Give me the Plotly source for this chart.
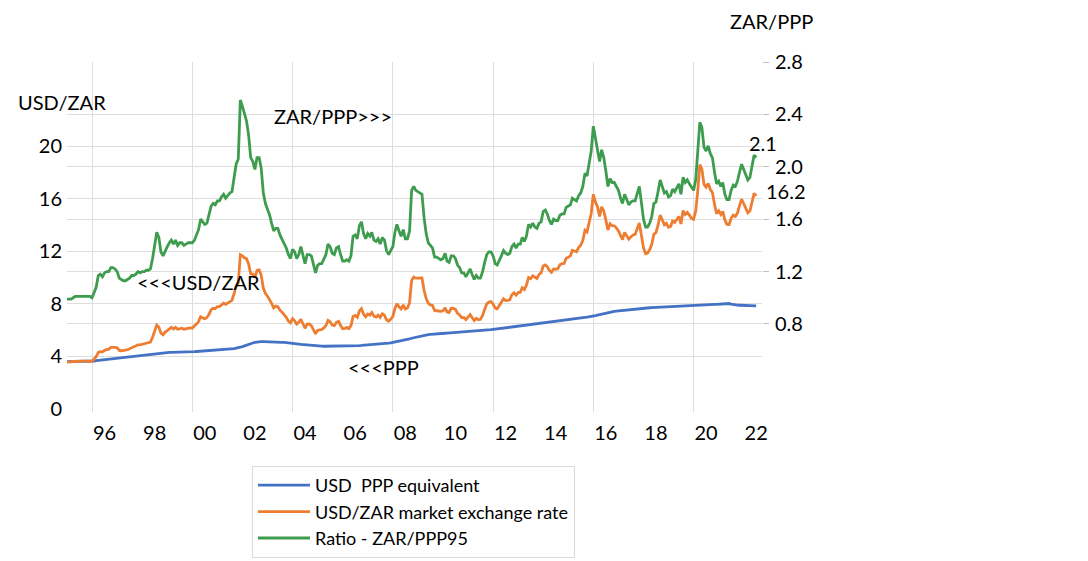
import pandas as pd
import plotly.graph_objects as go

# monthly data, Jan 1995 .. Jul 2022
ppp = [
    3.60, 3.60, 3.60, 3.60, 3.60, 3.60, 3.61, 3.61, 3.61, 3.62, 3.62, 3.62,  # 1995
    3.63, 3.65, 3.67, 3.69, 3.71, 3.73, 3.75, 3.77, 3.79, 3.81, 3.83, 3.85,  # 1996
    3.86, 3.88, 3.90, 3.92, 3.94, 3.96, 3.98, 4.00, 4.02, 4.04, 4.06, 4.08,  # 1997
    4.10, 4.12, 4.14, 4.16, 4.18, 4.20, 4.22, 4.24, 4.26, 4.27, 4.28, 4.29,  # 1998
    4.30, 4.30, 4.31, 4.31, 4.31, 4.32, 4.32, 4.32, 4.33, 4.33, 4.33, 4.34,  # 1999
    4.35, 4.36, 4.37, 4.38, 4.39, 4.40, 4.41, 4.42, 4.43, 4.44, 4.45, 4.46,  # 2000
    4.47, 4.48, 4.49, 4.50, 4.52, 4.53, 4.55, 4.57, 4.59, 4.62, 4.65, 4.68,  # 2001
    4.74, 4.80, 4.86, 4.92, 4.97, 5.02, 5.06, 5.09, 5.11, 5.12, 5.12, 5.12,  # 2002
    5.12, 5.11, 5.11, 5.10, 5.10, 5.09, 5.08, 5.07, 5.06, 5.05, 5.04, 5.02,  # 2003
    5.00, 4.98, 4.96, 4.94, 4.92, 4.90, 4.88, 4.86, 4.84, 4.82, 4.81, 4.80,  # 2004
    4.79, 4.78, 4.78, 4.77, 4.77, 4.77, 4.77, 4.77, 4.77, 4.77, 4.78, 4.78,  # 2005
    4.78, 4.78, 4.79, 4.79, 4.80, 4.80, 4.81, 4.82, 4.82, 4.83, 4.84, 4.85,  # 2006
    4.86, 4.87, 4.88, 4.89, 4.90, 4.92, 4.93, 4.95, 4.97, 4.99, 5.01, 5.03,  # 2007
    5.06, 5.09, 5.12, 5.15, 5.18, 5.22, 5.26, 5.30, 5.34, 5.38, 5.42, 5.46,  # 2008
    5.50, 5.54, 5.57, 5.60, 5.63, 5.65, 5.67, 5.69, 5.70, 5.72, 5.73, 5.74,  # 2009
    5.75, 5.76, 5.77, 5.78, 5.79, 5.80, 5.81, 5.82, 5.83, 5.84, 5.85, 5.86,  # 2010
    5.87, 5.88, 5.89, 5.90, 5.91, 5.92, 5.93, 5.95, 5.97, 5.99, 6.01, 6.03,  # 2011
    6.05, 6.07, 6.09, 6.11, 6.13, 6.15, 6.17, 6.19, 6.21, 6.23, 6.25, 6.27,  # 2012
    6.29, 6.31, 6.33, 6.35, 6.38, 6.41, 6.44, 6.46, 6.48, 6.50, 6.52, 6.54,  # 2013
    6.56, 6.58, 6.60, 6.62, 6.64, 6.66, 6.68, 6.70, 6.72, 6.74, 6.76, 6.78,  # 2014
    6.80, 6.82, 6.84, 6.86, 6.88, 6.90, 6.92, 6.94, 6.96, 6.98, 7.00, 7.02,  # 2015
    7.06, 7.10, 7.14, 7.18, 7.22, 7.26, 7.30, 7.34, 7.37, 7.40, 7.42, 7.44,  # 2016
    7.46, 7.48, 7.50, 7.52, 7.54, 7.56, 7.58, 7.60, 7.62, 7.64, 7.65, 7.66,  # 2017
    7.67, 7.68, 7.69, 7.70, 7.71, 7.72, 7.73, 7.74, 7.75, 7.76, 7.77, 7.78,  # 2018
    7.79, 7.80, 7.81, 7.82, 7.83, 7.84, 7.85, 7.86, 7.87, 7.88, 7.89, 7.90,  # 2019
    7.91, 7.92, 7.93, 7.94, 7.94, 7.95, 7.95, 7.95, 7.96, 7.96, 7.96, 7.96,  # 2020
    7.97, 7.98, 8.00, 8.02, 8.03, 8.02, 7.98, 7.94, 7.92, 7.90, 7.89, 7.88,  # 2021
    7.87, 7.87, 7.86, 7.86, 7.85, 7.85, 7.84,                                # 2022
]

usdzar = [
    3.57, 3.56, 3.58, 3.61, 3.63, 3.64, 3.64, 3.64, 3.64, 3.65, 3.65, 3.65,  # 1995
    3.63, 3.80, 3.98, 4.30, 4.36, 4.34, 4.46, 4.51, 4.55, 4.68, 4.70, 4.69,  # 1996
    4.65, 4.45, 4.43, 4.43, 4.47, 4.51, 4.58, 4.68, 4.69, 4.78, 4.88, 4.87,  # 1997
    4.94, 4.96, 5.00, 5.03, 5.08, 5.45, 5.86, 6.38, 6.21, 5.77, 5.65, 5.85,  # 1998
    5.96, 6.12, 6.21, 6.08, 6.21, 6.06, 6.12, 6.14, 6.07, 6.11, 6.15, 6.16,  # 1999
    6.16, 6.30, 6.46, 6.65, 7.02, 6.93, 6.87, 6.96, 7.20, 7.55, 7.66, 7.64,  # 2000
    7.79, 7.79, 7.93, 8.04, 7.96, 8.06, 8.18, 8.26, 8.78, 9.33, 9.60, 11.73,  # 2001
    11.65, 11.49, 11.44, 11.01, 10.28, 10.26, 10.02, 10.53, 10.57, 10.17, 9.20, 8.79,  # 2002
    8.58, 8.33, 8.04, 7.68, 7.82, 7.78, 7.51, 7.36, 7.18, 6.97, 6.68, 6.55,  # 2003
    6.87, 6.71, 6.45, 6.59, 6.82, 6.44, 6.14, 6.45, 6.46, 6.34, 6.02, 5.71,  # 2004
    5.98, 6.01, 6.04, 6.17, 6.33, 6.74, 6.64, 6.39, 6.34, 6.59, 6.66, 6.35,  # 2005
    6.10, 6.12, 6.20, 6.11, 6.34, 7.04, 7.11, 6.97, 7.45, 7.63, 7.21, 7.01,  # 2006
    7.22, 7.14, 7.34, 7.06, 6.99, 7.13, 6.96, 7.24, 7.14, 6.79, 6.68, 6.83,  # 2007
    7.02, 7.64, 7.99, 7.77, 7.61, 7.91, 7.61, 7.68, 8.08, 9.78, 10.03, 9.95,  # 2008
    9.95, 9.98, 9.96, 9.01, 8.39, 8.03, 7.92, 7.88, 7.49, 7.47, 7.45, 7.43,  # 2009
    7.47, 7.70, 7.38, 7.35, 7.66, 7.65, 7.58, 7.28, 7.15, 6.94, 6.96, 6.80,  # 2010
    6.99, 7.18, 6.96, 6.73, 6.90, 6.79, 6.82, 7.12, 7.58, 7.99, 8.13, 8.17,  # 2011
    7.98, 7.67, 7.62, 7.83, 8.12, 8.38, 8.24, 8.26, 8.30, 8.69, 8.84, 8.66,  # 2012
    8.85, 8.88, 9.22, 9.09, 9.41, 10.00, 9.91, 10.12, 9.99, 9.92, 10.24, 10.35,  # 2013
    10.87, 10.96, 10.82, 10.54, 10.39, 10.65, 10.63, 10.66, 10.97, 11.06, 11.07, 11.46,  # 2014
    11.54, 11.64, 12.07, 12.02, 11.96, 12.28, 12.45, 12.83, 13.59, 13.46, 14.13, 14.87,  # 2015
    16.33, 15.73, 15.41, 14.64, 15.38, 15.06, 14.38, 13.61, 14.09, 13.94, 13.93, 13.78,  # 2016
    13.54, 13.17, 12.88, 13.43, 13.17, 12.91, 13.09, 13.24, 13.28, 13.78, 14.15, 13.24,  # 2017
    12.26, 11.81, 11.86, 12.11, 12.52, 13.28, 13.41, 13.98, 14.74, 14.39, 14.01, 14.12,  # 2018
    13.82, 13.89, 14.29, 14.19, 14.37, 14.64, 14.07, 15.09, 14.80, 14.95, 14.74, 14.50,  # 2019
    14.43, 15.03, 16.55, 18.58, 18.24, 17.08, 16.87, 17.16, 16.69, 16.46, 15.58, 14.86,  # 2020
    15.07, 14.79, 15.03, 14.38, 14.04, 14.03, 14.50, 14.74, 14.65, 14.90, 15.47, 15.95,  # 2021
    15.61, 15.29, 14.93, 15.06, 15.86, 16.40, 16.20,                                     # 2022
]

ratio = [
    0.99, 0.99, 0.99, 1.00, 1.01, 1.01, 1.01, 1.01, 1.01, 1.01, 1.01, 1.01,  # 1995
    1.00, 1.04, 1.08, 1.17, 1.18, 1.16, 1.19, 1.20, 1.20, 1.23, 1.23, 1.22,  # 1996
    1.20, 1.15, 1.14, 1.13, 1.13, 1.14, 1.15, 1.17, 1.17, 1.18, 1.20, 1.19,  # 1997
    1.20, 1.20, 1.21, 1.21, 1.22, 1.30, 1.39, 1.50, 1.46, 1.35, 1.32, 1.36,  # 1998
    1.39, 1.42, 1.44, 1.41, 1.44, 1.40, 1.42, 1.42, 1.40, 1.41, 1.42, 1.42,  # 1999
    1.42, 1.44, 1.48, 1.52, 1.60, 1.58, 1.56, 1.57, 1.63, 1.70, 1.72, 1.71,  # 2000
    1.74, 1.74, 1.77, 1.79, 1.76, 1.78, 1.80, 1.81, 1.91, 2.02, 2.06, 2.51,  # 2001
    2.46, 2.39, 2.35, 2.24, 2.07, 2.04, 1.98, 2.07, 2.07, 1.99, 1.80, 1.72,  # 2002
    1.68, 1.63, 1.57, 1.51, 1.53, 1.53, 1.48, 1.45, 1.42, 1.38, 1.33, 1.30,  # 2003
    1.37, 1.35, 1.30, 1.33, 1.39, 1.31, 1.26, 1.33, 1.33, 1.32, 1.25, 1.19,  # 2004
    1.25, 1.26, 1.26, 1.29, 1.33, 1.41, 1.39, 1.34, 1.33, 1.38, 1.39, 1.33,  # 2005
    1.28, 1.28, 1.29, 1.28, 1.32, 1.47, 1.48, 1.45, 1.55, 1.58, 1.49, 1.45,  # 2006
    1.49, 1.47, 1.50, 1.44, 1.43, 1.45, 1.41, 1.46, 1.44, 1.36, 1.33, 1.36,  # 2007
    1.39, 1.50, 1.56, 1.51, 1.47, 1.52, 1.45, 1.45, 1.51, 1.82, 1.85, 1.82,  # 2008
    1.81, 1.80, 1.79, 1.61, 1.49, 1.42, 1.40, 1.38, 1.31, 1.31, 1.30, 1.29,  # 2009
    1.30, 1.34, 1.28, 1.27, 1.32, 1.32, 1.30, 1.25, 1.23, 1.19, 1.19, 1.16,  # 2010
    1.19, 1.22, 1.18, 1.14, 1.17, 1.15, 1.15, 1.20, 1.27, 1.33, 1.35, 1.35,  # 2011
    1.32, 1.26, 1.25, 1.28, 1.32, 1.36, 1.34, 1.33, 1.34, 1.39, 1.41, 1.38,  # 2012
    1.41, 1.41, 1.46, 1.43, 1.47, 1.56, 1.54, 1.57, 1.54, 1.53, 1.57, 1.58,  # 2013
    1.66, 1.67, 1.64, 1.59, 1.56, 1.60, 1.59, 1.59, 1.63, 1.64, 1.64, 1.69,  # 2014
    1.70, 1.71, 1.76, 1.75, 1.74, 1.78, 1.80, 1.85, 1.95, 1.93, 2.02, 2.12,  # 2015
    2.31, 2.22, 2.16, 2.04, 2.13, 2.07, 1.97, 1.85, 1.91, 1.88, 1.88, 1.85,  # 2016
    1.82, 1.76, 1.72, 1.79, 1.75, 1.71, 1.73, 1.74, 1.74, 1.80, 1.85, 1.73,  # 2017
    1.60, 1.54, 1.54, 1.57, 1.62, 1.72, 1.73, 1.81, 1.90, 1.85, 1.80, 1.81,  # 2018
    1.77, 1.78, 1.83, 1.81, 1.84, 1.87, 1.79, 1.92, 1.88, 1.90, 1.87, 1.84,  # 2019
    1.82, 1.90, 2.09, 2.34, 2.30, 2.15, 2.12, 2.16, 2.10, 2.07, 1.96, 1.87,  # 2020
    1.89, 1.85, 1.88, 1.79, 1.75, 1.75, 1.82, 1.86, 1.85, 1.89, 1.96, 2.02,  # 2021
    1.98, 1.94, 1.90, 1.92, 2.02, 2.09, 2.07,                                # 2022
]

dates = pd.date_range("1995-01-01", periods=len(usdzar), freq="MS")

year_ticks = [f"{y}-07-01" for y in range(1996, 2023, 2)]
year_labels = [f"{y % 100:02d}" for y in range(1996, 2023, 2)]
year_grid = [f"{y}-01-01" for y in range(1996, 2021, 4)]

left_ticks = [0, 4, 8, 12, 16, 20]
right_ticks = [0.8, 1.2, 1.6, 2.0, 2.4, 2.8]

FONT = "Lato"
GRID = "#dedede"

# the page body adds an 8px offset, so work in figure pixels = screen - 8
OFF = 8
W, H = 1088 - OFF, 561 - OFF
L, R, T, B = 67 - OFF, 762 - OFF, 62 - OFF, 412 - OFF


def px(x):
    # screen x pixel -> paper coordinate
    return (x - OFF - L) / (R - L)


def py(y):
    return (B - (y - OFF)) / (B - T)


fig = go.Figure()
fig.add_trace(go.Scatter(
    x=dates, y=ppp, name="USD\u00a0 PPP equivalent", mode="lines",
    line=dict(color="#4472C4", width=2.8),
))
fig.add_trace(go.Scatter(
    x=dates, y=usdzar, name="USD/ZAR market exchange rate", mode="lines",
    line=dict(color="#ED7D31", width=2.8),
))
fig.add_trace(go.Scatter(
    x=dates, y=ratio, name="Ratio - ZAR/PPP95", mode="lines", yaxis="y2",
    line=dict(color="#3E9C4F", width=2.8),
))

fig.update_layout(
    width=W,
    height=H,
    margin=dict(l=L, r=W - R, t=T, b=H - B, autoexpand=False),
    paper_bgcolor="white",
    plot_bgcolor="white",
    font=dict(family=FONT, size=20, color="black"),
    showlegend=True,
    legend=dict(
        x=px(252), y=py(466), xanchor="left", yanchor="top",
        bordercolor="#d9d9d9", borderwidth=1,
        font=dict(family=FONT, size=18, color="black"),
        itemwidth=52,
    ),
    xaxis=dict(
        type="date",
        range=["1995-01-01", "2022-09-24"],
        tickmode="array", tickvals=year_ticks, ticktext=year_labels,
        showgrid=False, ticks="", showline=False, zeroline=False,
        tickfont=dict(size=20), ticklabelstandoff=7,
        minor=dict(tickmode="array", tickvals=year_grid, showgrid=True,
                   gridcolor=GRID, gridwidth=1, ticks=""),
    ),
    yaxis=dict(
        range=[-0.23, 26.39],
        tickmode="array", tickvals=left_ticks,
        showgrid=False, zeroline=False, showline=False, ticks="",
        tickfont=dict(size=20), ticklabelstandoff=4,
        minor=dict(tickmode="array", tickvals=left_ticks[1:], showgrid=True,
                   gridcolor=GRID, gridwidth=1, ticks=""),
    ),
    yaxis2=dict(
        overlaying="y", side="right",
        range=[0.128, 2.8],
        tickmode="array", tickvals=right_ticks,
        ticktext=[f"{v:.1f}" for v in right_ticks],
        showgrid=False, zeroline=False, showline=False,
        ticks="outside", ticklen=6, tickcolor="#bfbfbf", tickwidth=1,
        tickfont=dict(size=20), ticklabelstandoff=2,
        minor=dict(tickmode="array", tickvals=right_ticks[:-1], showgrid=True,
                   gridcolor=GRID, gridwidth=1, ticks=""),
    ),
)

notes = [
    ("USD/ZAR", 17, 102),
    ("ZAR/PPP", 729, 21),
    ("ZAR/PPP>>>", 273, 116),
    ("<<<USD/ZAR", 136, 282),
    ("<<<PPP", 347, 367),
    ("2.1", 748, 143),
    ("16.2", 765, 191),
]
for text, x, y in notes:
    fig.add_annotation(
        text=text, x=px(x), y=py(y), xref="paper", yref="paper",
        xanchor="left", yanchor="middle", showarrow=False, borderpad=0,
        font=dict(family=FONT, size=20, color="black"),
    )

fig.write_html("out.html")
